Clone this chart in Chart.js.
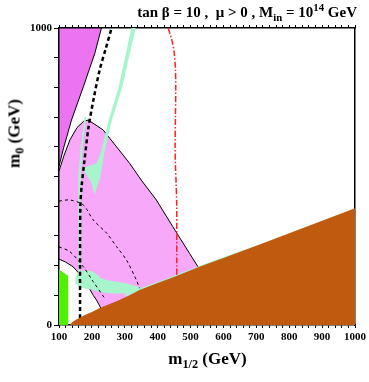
<!DOCTYPE html>
<html>
<head>
<meta charset="utf-8">
<script src="https://cdn.jsdelivr.net/npm/chart.js@4.4.0/dist/chart.umd.min.js"></script>
<style>
  html, body { margin: 0; padding: 0; background: #fff; }
  #wrap { position: relative; width: 369px; height: 382px; font-family: 'Liberation Serif', 'Times New Roman', serif; font-weight: bold; color: #000; }
  #wrap canvas { position: absolute; left: 0; top: 0; }
  .lbl { position: absolute; white-space: nowrap; line-height: 1; }
  .lbl sub, .lbl sup { font-size: 72%; line-height: 0; }
  #title { right: 12px; top: 5px; font-size: 15px; }
  #xlab { left: 0; width: 415px; text-align: center; top: 350px; font-size: 17px; }
  #ylab { left: -86px; width: 200px; text-align: center; top: 125px; font-size: 17px; transform: rotate(-90deg); }
</style>
</head>
<body>
<div id="wrap">
  <canvas id="chart" width="369" height="382"></canvas>
  <div class="lbl" id="title">tan &beta; = 10 ,&nbsp; &mu; &gt; 0 , M<sub>in</sub> = 10<sup>14</sup> GeV</div>
  <div class="lbl" id="xlab">m<sub>1/2</sub> (GeV)</div>
  <div class="lbl" id="ylab">m<sub>0</sub> (GeV)</div>
</div>
<script>
// all points are [m1/2, m0] in GeV

// brown: charged (stau) LSP region
const stauRegion = [[133,0],[140,9],[150,17],[174,31],[200,44],[224,57],[275,80],[315,100],[345,118],[400,141],
  [457,165],[527,196],[600,226],[700,267],[800,309],[900,351],[1000,393],[1000,0],[133,0]];

// bright green: b -> s gamma excluded
const bsgRegion = [[100,0],[128,0],[128,165],[100,187],[100,0]];

// dark magenta wedge, top left
const darkRegion = [[100,1000],[229,1000],[209,915],[174,802],[138,690],[115,600],[100,535],[100,1000]];

// light pink: g-2 favoured
const gm2Region = [[100,518],[115,570],[133,623],[155,665],[175,686],[189,690],[234,657],[275,600],[315,544],
  [350,488],[396,421],[446,331],[497,241],[525,192],[525,150],[228,55],[214,84],[204,100],[184,140],[174,155],
  [160,175],[143,196],[120,212],[100,222],[100,518]];

// turquoise: relic density strips
const relicStripA = [[320,1000],[333,1000],[292,800],[261,690],[238,580],[226,500],[208,438],[198,480],[178,515],
  [176,530],[214,545],[227,580],[251,690],[281,800],[320,1000]];
const relicStripB = [[178,700],[183,700],[172,600],[166,500],[164,400],[164,300],[165,200],[166,175],[158,175],
  [158,300],[158,400],[160,500],[166,600],[178,700]];
const relicBlob = [[150,160],[158,178],[172,183],[200,182],[215,170],[230,156],[260,148],[300,141],[345,128],
  [345,116],[300,106],[260,106],[224,110],[205,118],[185,122],[170,125],[160,130],[150,140],[150,160]];
const relicEdge = [[300,104],[345,123],[400,145],[457,169],[527,199],[600,228],[700,268],[700,263],[600,223],
  [527,193],[457,162],[400,138],[345,115],[300,96],[300,104]];

// contours
const charginoLine = [[164,0],[164,200],[165,400],[169,470],[176,540],[189,660],[205,760],[224,860],[242,930],[260,1000]];
const higgsLine = [[432,1000],[443,960],[450,920],[454,860],[455,800],[454,700],[453,600],[454,540],[456,480],
  [458,400],[458,300],[458,200],[458,150]];
const thinDashA = [[100,417],[133,421],[174,404],[204,354],[245,309],[275,264],[305,219],[335,152],[345,124]];
const thinDashB = [[100,263],[133,247],[174,196],[204,146],[239,90]];

const pts = arr => arr.map(([x, y]) => ({ x, y }));

function area(data, color, order, border) {
  return {
    data: pts(data), order,
    backgroundColor: color, fill: 'shape',
    borderColor: border || color, borderWidth: border ? 1 : 0,
    pointRadius: 0, tension: 0
  };
}
function curve(data, color, width, dash, order) {
  return {
    data: pts(data), order,
    borderColor: color, borderWidth: width, borderDash: dash,
    fill: false, pointRadius: 0, tension: 0.3
  };
}

const serif = { family: "'Liberation Serif', 'Times New Roman', serif", weight: 'bold', size: 11 };

new Chart(document.getElementById('chart'), {
  type: 'line',
  data: {
    datasets: [
      area(stauRegion, '#bf5a0e', 1),
      area(bsgRegion, '#4ff000', 2),
      curve(charginoLine, '#000', 2.5, [4, 3], 3),
      curve(higgsLine, '#ff2020', 1.5, [6, 2, 1.5, 2], 3),
      curve(thinDashA, '#000', 1, [3, 3], 3),
      curve(thinDashB, '#000', 1, [3, 3], 3),
      area(relicStripA, '#a6f5cb', 4),
      area(relicStripB, '#a6f5cb', 4),
      area(relicBlob, '#a6f5cb', 4),
      area(relicEdge, '#a6f5cb', 4),
      area(gm2Region, '#f8a8f8', 5, '#000'),
      area(darkRegion, '#ec74f0', 6, '#000')
    ]
  },
  options: {
    responsive: false,
    animation: false,
    layout: { padding: { left: 0, top: 25, right: 13, bottom: 0 } },
    plugins: { legend: { display: false }, tooltip: { enabled: false } },
    scales: {
      x: {
        type: 'linear', position: 'bottom', min: 100, max: 1000,
        ticks: {
          stepSize: 20, autoSkip: false, maxRotation: 0, color: '#000', font: serif, padding: 3,
          callback: v => (v % 100 === 0 ? String(v) : '')
        },
        grid: { drawOnChartArea: false, tickLength: 3, color: '#000' },
        border: { color: '#000', width: 1.5 },
        afterFit: s => { s.height = 57; }
      },
      xTop: {
        type: 'linear', position: 'top', min: 100, max: 1000,
        ticks: { display: false, stepSize: 20, autoSkip: false },
        grid: { drawOnChartArea: false, tickLength: 3, color: '#000' },
        border: { color: '#000', width: 1.5 },
        afterFit: s => { s.height = 3; }
      },
      y: {
        type: 'linear', position: 'left', min: 0, max: 1000,
        ticks: {
          stepSize: 100, autoSkip: false, color: '#000', font: serif, padding: 2,
          callback: v => (v === 0 || v === 1000 ? String(v) : '')
        },
        grid: { drawOnChartArea: false, tickLength: 5, color: '#000' },
        border: { color: '#000', width: 1.5 },
        afterFit: s => { s.width = 59; }
      },
      yRight: {
        type: 'linear', position: 'right', min: 0, max: 1000,
        ticks: { display: false, stepSize: 100 },
        grid: { drawOnChartArea: false, drawTicks: false },
        border: { color: '#000', width: 1.5 },
        afterFit: s => { s.width = 0; }
      }
    }
  }
});
</script>
</body>
</html>
